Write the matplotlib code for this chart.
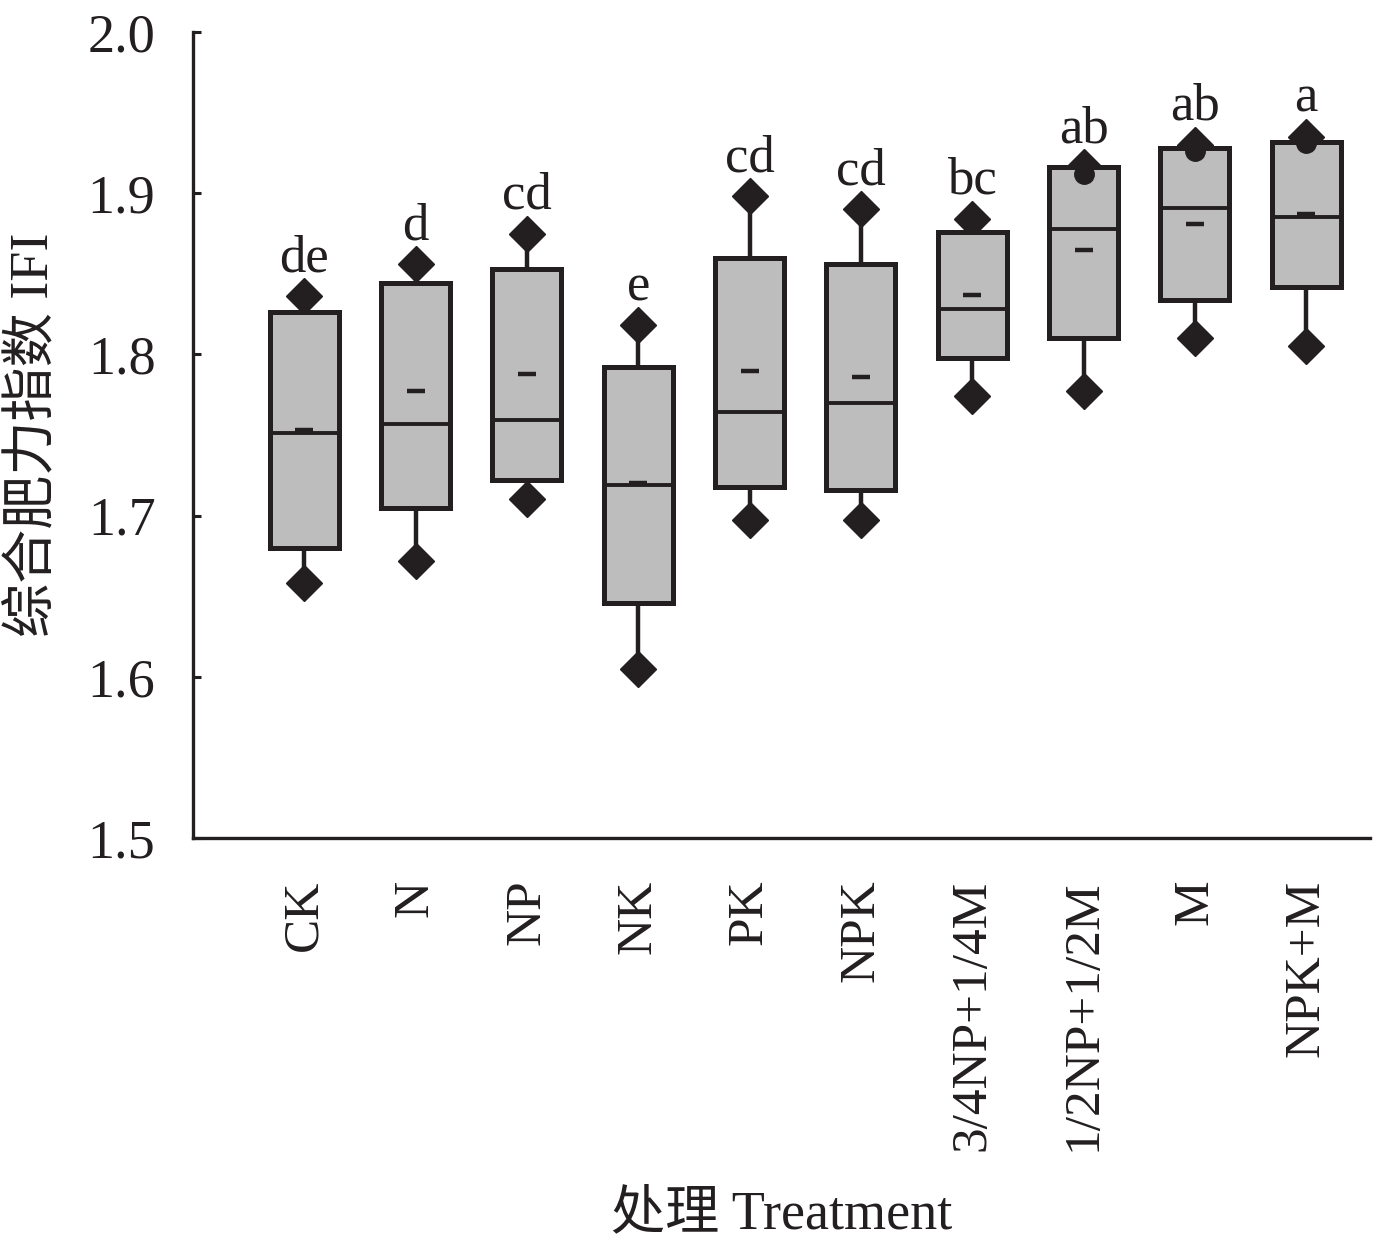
import matplotlib
matplotlib.use("Agg")
import matplotlib.pyplot as plt

plt.rcParams['font.family'] = ['Liberation Serif', 'Noto Sans CJK SC', 'DejaVu Sans']

# treatments and box statistics
treatments = ['CK', 'N', 'NP', 'NK', 'PK', 'NPK', '3/4NP+1/4M', '1/2NP+1/2M', 'M', 'NPK+M']
q1 = [1.680, 1.705, 1.722, 1.646, 1.718, 1.716, 1.798, 1.810, 1.834, 1.842]
q3 = [1.826, 1.844, 1.853, 1.792, 1.860, 1.856, 1.876, 1.916, 1.928, 1.932]
med = [1.751, 1.757, 1.759, 1.719, 1.764, 1.770, 1.828, 1.878, 1.891, 1.885]
mean = [1.753, 1.777, 1.788, 1.720, 1.790, 1.786, 1.837, 1.865, 1.881, 1.887]
low = [1.658, 1.672, 1.710, 1.605, 1.697, 1.697, 1.774, 1.777, 1.810, 1.805]
high = [1.836, 1.856, 1.875, 1.818, 1.898, 1.890, 1.884, 1.916, 1.930, 1.935]
# extra round markers near the top of the last three boxes
circ_idx = [7, 8, 9]
circ_val = [1.912, 1.926, 1.931]
letters = ['de', 'd', 'cd', 'e', 'cd', 'cd', 'bc', 'ab', 'ab', 'a']

dark = '#231f20'
fill = '#bdbdbd'

fig = plt.figure(figsize=(13.78, 12.5), dpi=100)
ax = fig.add_axes([0.140, 0.3296, 0.854, 0.6448])

pos = list(range(1, len(treatments) + 1))
stats = []
for i in range(len(treatments)):
    stats.append(dict(med=med[i], q1=q1[i], q3=q3[i], whislo=low[i], whishi=high[i],
                      mean=mean[i], fliers=[]))

ax.bxp(stats, positions=pos, widths=0.62, patch_artist=True, showcaps=False,
       showmeans=True, showfliers=False,
       boxprops=dict(facecolor=fill, edgecolor=dark, linewidth=3.6, zorder=3),
       medianprops=dict(color=dark, linewidth=2.8, zorder=4),
       whiskerprops=dict(color=dark, linewidth=3.2, zorder=2),
       meanprops=dict(marker='_', markersize=13, markeredgewidth=3.2,
                      markeredgecolor=dark, zorder=4))

# extremes as diamonds
ax.plot(pos, low, linestyle='none', marker='D', markersize=18, color=dark, zorder=1.5)
ax.plot(pos, high, linestyle='none', marker='D', markersize=18, color=dark, zorder=1.5)
ax.plot([pos[i] for i in circ_idx], circ_val, linestyle='none', marker='o',
        markersize=14, color=dark, zorder=5)

for i in range(len(treatments)):
    ax.annotate(letters[i], xy=(pos[i], high[i]), xytext=(0, 18), textcoords='offset points',
                ha='center', va='baseline', fontsize=38, color=dark)

ax.set_xlim(0, 10.57)
ax.set_ylim(1.5, 2.0)
ax.set_yticks([1.5, 1.6, 1.7, 1.8, 1.9, 2.0])
ax.set_yticklabels(['1.5', '1.6', '1.7', '1.8', '1.9', '2.0'])
ax.set_xticks(pos)
ax.set_xticklabels(treatments, rotation=90)

ax.spines['top'].set_visible(False)
ax.spines['right'].set_visible(False)
for s in ['left', 'bottom']:
    ax.spines[s].set_linewidth(2.4)
    ax.spines[s].set_color(dark)

ax.tick_params(axis='y', direction='in', length=6, width=2.2, color=dark,
               labelsize=39, pad=27, labelcolor=dark)
ax.tick_params(axis='x', length=0, labelsize=37, pad=30, labelcolor=dark)

ax.set_ylabel('综合肥力指数 IFI', fontsize=39, color=dark, labelpad=20)
ax.set_xlabel('处理 Treatment', fontsize=39, color=dark, labelpad=28)

fig.savefig('out.png', dpi=100)
